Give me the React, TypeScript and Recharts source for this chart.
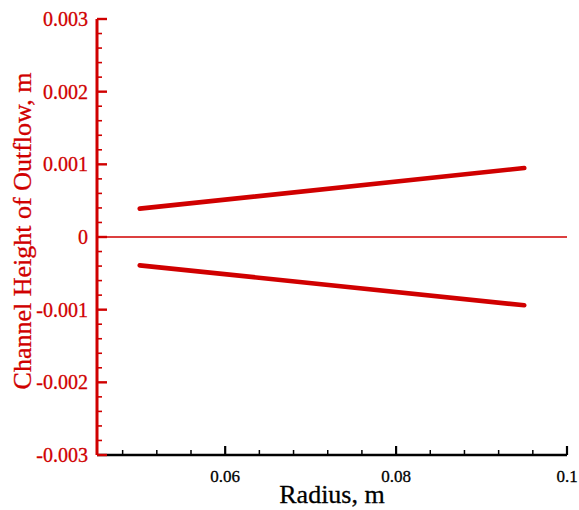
import React from 'react';
import { LineChart, Line, XAxis, YAxis, ReferenceLine, Label } from 'recharts';

// channel height (m) vs radius (m), upper and lower wall of the outflow channel
const upperWall = [
  { r: 0.05, h: 0.00039 },
  { r: 0.095, h: 0.00095 },
];
const lowerWall = [
  { r: 0.05, h: -0.00039 },
  { r: 0.095, h: -0.00094 },
];

const xMajor = [0.06, 0.08, 0.1];
const xMajorLabels = ['0.06', '0.08', '0.1'];
const xMinor = [0.048, 0.052, 0.056, 0.064, 0.068, 0.072, 0.076, 0.084, 0.088, 0.092, 0.096];

const yMajor = [-0.003, -0.002, -0.001, 0, 0.001, 0.002, 0.003];
const yMajorLabels = ['-0.003', '-0.002', '-0.001', '0', '0.001', '0.002', '0.003'];

const W = 579;
const H = 510;
const RED = '#d00000';
const FONT = '"Liberation Serif", "Times New Roman", serif';

// 4 minor ticks between each pair of major y ticks
const yMinor: number[] = [];
for (let i = 0; i < yMajor.length - 1; i++) {
  const step = (yMajor[i + 1] - yMajor[i]) / 5;
  for (let k = 1; k < 5; k++) yMinor.push(yMajor[i] + step * k);
}

const findMajor = (list: number[], v: number) => list.findIndex((m) => Math.abs(m - v) < 1e-9);

const XTick = (props: any) => {
  const { x, y, payload } = props;
  const idx = findMajor(xMajor, payload.value);
  if (idx < 0) return <line x1={x} y1={y} x2={x} y2={y - 5} stroke="#000" strokeWidth={1.5} />;
  return (
    <g>
      <line x1={x} y1={y} x2={x} y2={y - 9} stroke="#000" strokeWidth={2.2} />
      <text
        x={x}
        y={y + 27}
        textAnchor="middle"
        style={{ fontSize: 17, fontFamily: FONT }}
        fill="#000"
        stroke="#000"
        strokeWidth={0.3}
      >
        {xMajorLabels[idx]}
      </text>
    </g>
  );
};

const YTick = (props: any) => {
  const { x, y, payload } = props;
  const idx = findMajor(yMajor, payload.value);
  if (idx < 0) return <line x1={x} y1={y} x2={x + 5} y2={y} stroke={RED} strokeWidth={1.6} />;
  return (
    <g>
      <line x1={x} y1={y} x2={x + 10} y2={y} stroke={RED} strokeWidth={2.4} />
      <text
        x={x - 9}
        y={y + 7}
        textAnchor="end"
        style={{ fontSize: 20, fontFamily: FONT }}
        fill={RED}
        stroke={RED}
        strokeWidth={0.3}
      >
        {yMajorLabels[idx]}
      </text>
    </g>
  );
};

export default function App() {
  return (
    <div style={{ position: 'absolute', left: 0, top: 0, width: W, height: H, background: '#fff' }}>
      <LineChart width={W} height={H} margin={{ top: 19, right: 12, bottom: 0, left: 37 }}>
        <XAxis
          dataKey="r"
          type="number"
          domain={[0.045, 0.1]}
          allowDataOverflow
          ticks={[...xMinor, ...xMajor].sort((a, b) => a - b)}
          interval={0}
          tick={<XTick />}
          tickLine={false}
          tickSize={0}
          tickMargin={0}
          height={55}
          axisLine={{ stroke: '#000', strokeWidth: 2.5 }}
        >
          <Label
            content={() => (
              <text
                x={332}
                y={503}
                textAnchor="middle"
                style={{ fontSize: 26, fontFamily: FONT }}
                fill="#000"
                stroke="#000"
                strokeWidth={0.3}
              >
                Radius, m
              </text>
            )}
          />
        </XAxis>
        <YAxis
          type="number"
          domain={[-0.003, 0.003]}
          allowDataOverflow
          ticks={[...yMinor, ...yMajor].sort((a, b) => a - b)}
          interval={0}
          tick={<YTick />}
          tickLine={false}
          tickSize={0}
          tickMargin={0}
          width={60}
          axisLine={{ stroke: RED, strokeWidth: 3 }}
        >
          <Label
            content={() => (
              <text
                x={31}
                y={231}
                transform="rotate(-90, 31, 231)"
                textAnchor="middle"
                style={{ fontSize: 26, fontFamily: FONT }}
                fill={RED}
                stroke={RED}
                strokeWidth={0.3}
              >
                Channel Height of Outflow, m
              </text>
            )}
          />
        </YAxis>
        <ReferenceLine y={0} stroke={RED} strokeWidth={1.6} />
        <Line
          data={upperWall}
          dataKey="h"
          type="linear"
          stroke={RED}
          strokeWidth={4.6}
          strokeLinecap="round"
          dot={false}
          isAnimationActive={false}
        />
        <Line
          data={lowerWall}
          dataKey="h"
          type="linear"
          stroke={RED}
          strokeWidth={4.6}
          strokeLinecap="round"
          dot={false}
          isAnimationActive={false}
        />
      </LineChart>
    </div>
  );
}
